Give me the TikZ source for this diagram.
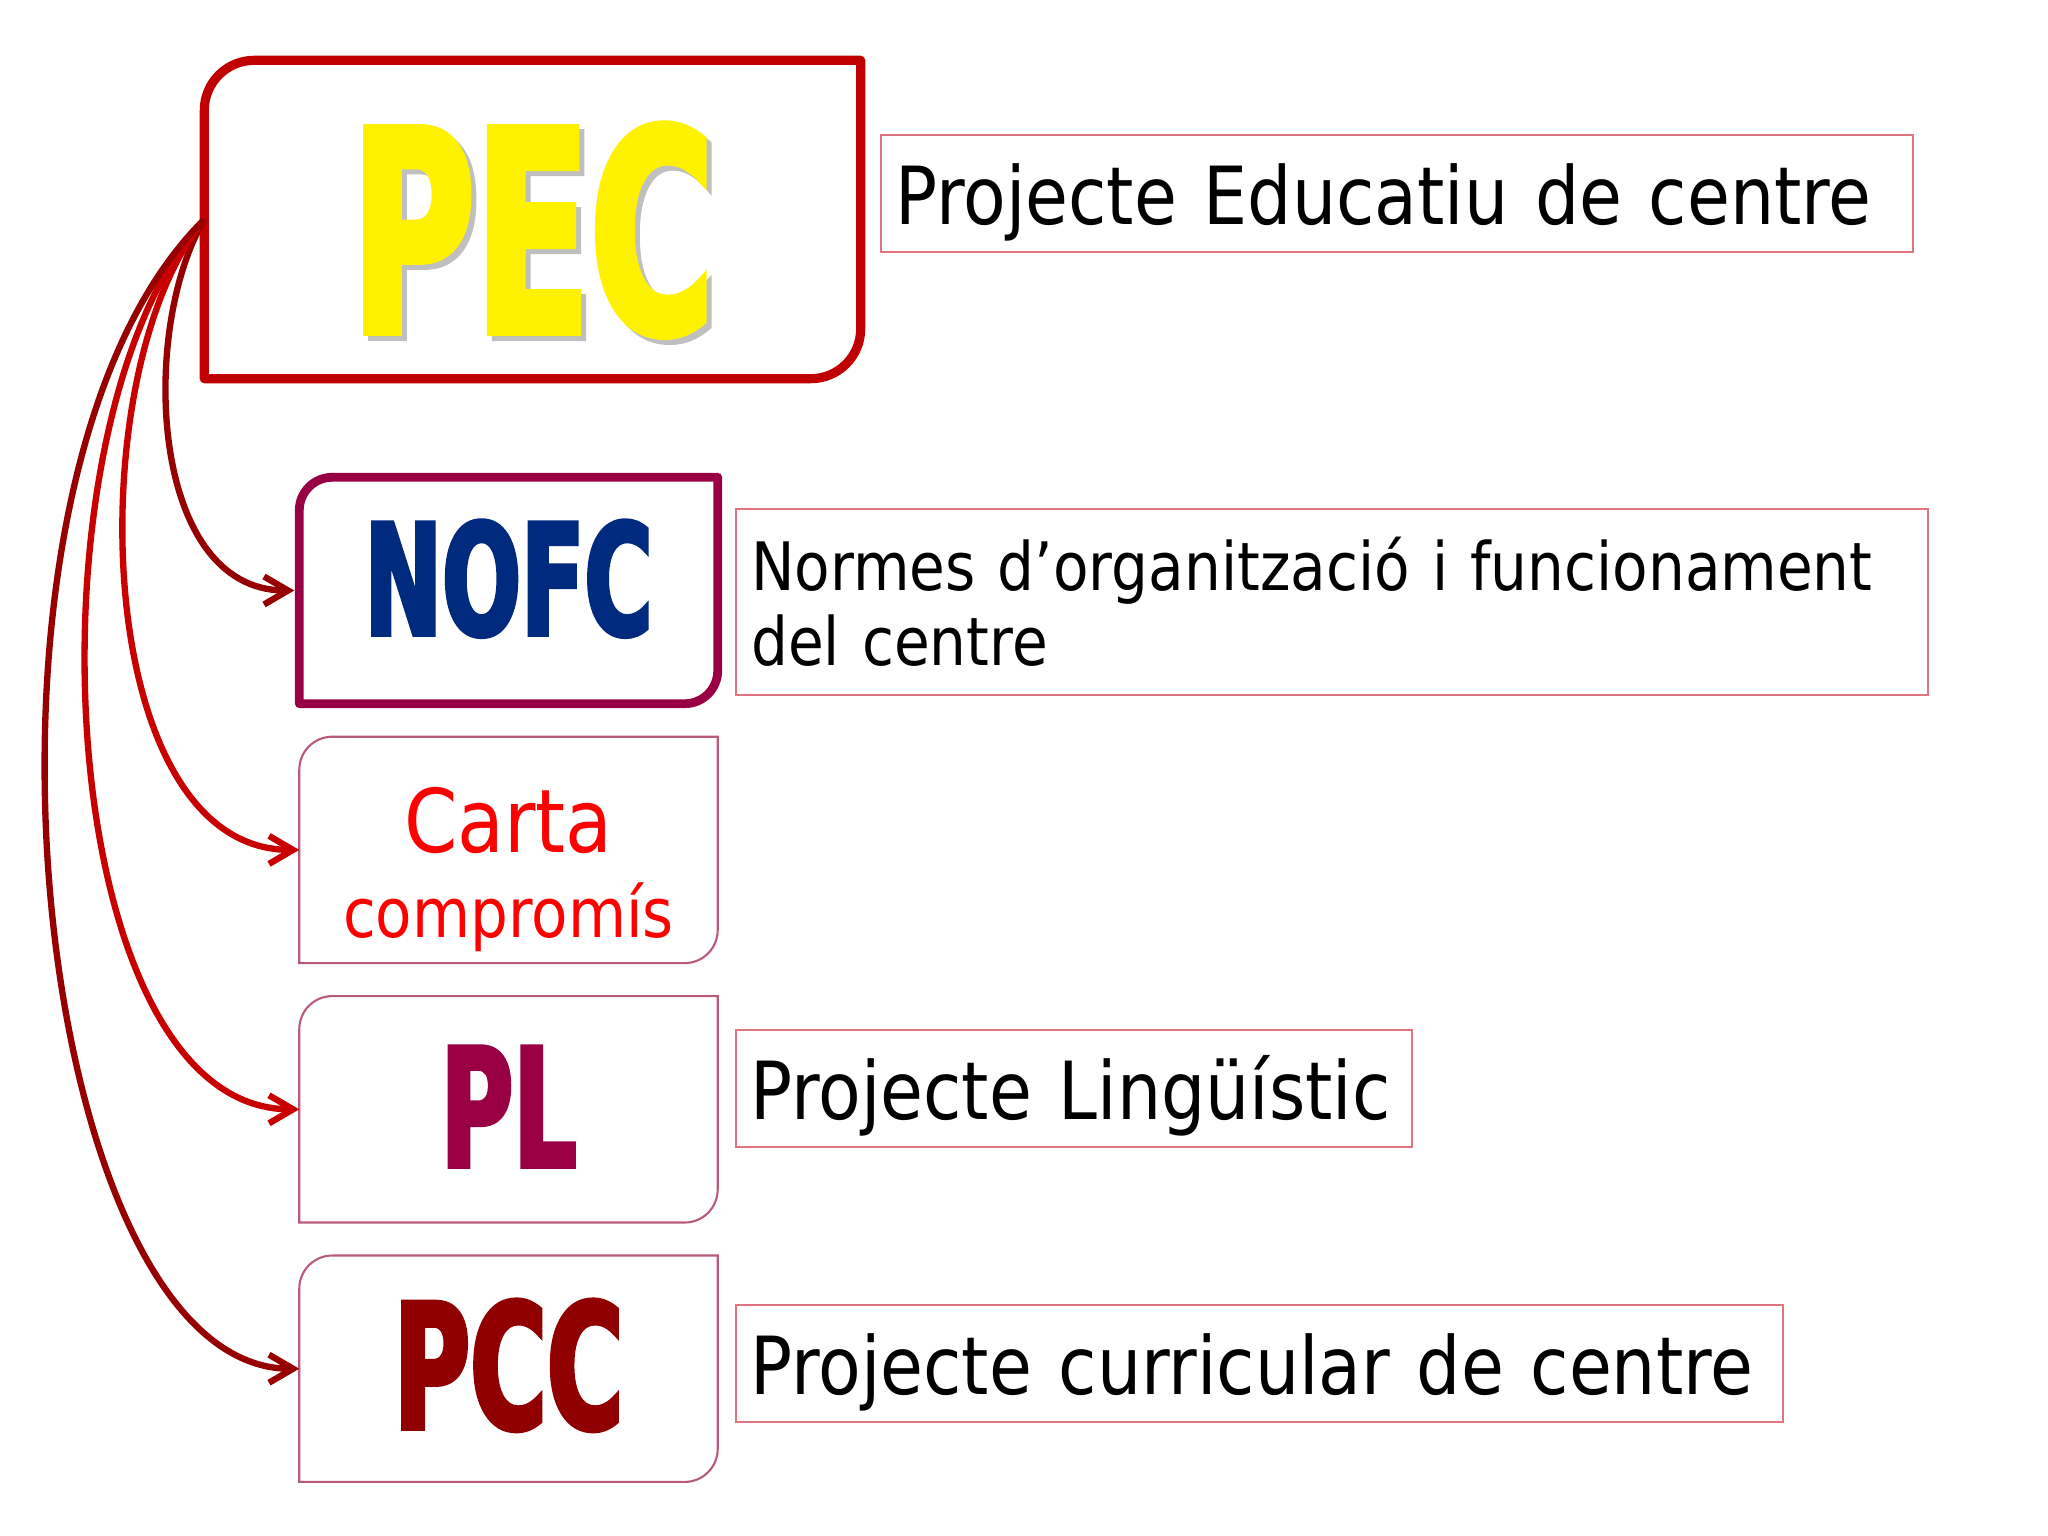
\documentclass[tikz,border=0pt]{standalone}
\usepackage{fontspec}
\newfontfamily\tahoma{DejaVu Sans}[FakeStretch=0.87]
\newfontfamily\impact{DejaVu Sans}[FakeStretch=0.6, FakeBold=2.5]
\usetikzlibrary{arrows.meta}
\usetikzlibrary{chains}
\usetikzlibrary{positioning}
\definecolor{pecred}{RGB}{192,0,0}
\definecolor{nofcline}{RGB}{153,0,68}
\definecolor{nofcblue}{RGB}{0,42,125}
\definecolor{pccred}{RGB}{144,0,0}
\definecolor{cartared}{RGB}{255,0,0}
\definecolor{thinline}{RGB}{185,90,125}
\definecolor{labline}{RGB}{228,115,128}
\definecolor{darkarrow}{RGB}{150,0,0}
\definecolor{redarrow}{RGB}{200,0,0}
\tikzset{
	>={Straight Barb[length=2.4mm,width=2.8mm]},
	abbr/.style={font=\impact\bfseries\fontsize{#1}{#1}\selectfont, text depth=0pt},
	subbox/.style={
		rectangle,
		minimum width=4.17cm,
		minimum height=2.25cm,
		inner sep=0pt,
		align=center,
		on chain},
	labelbox/.style={
		draw=labline, line width=0.6pt,
		inner xsep=0.15cm, inner ysep=0pt,
		align=left},
	oneline/.style={
		labelbox,
		font=\tahoma\fontsize{22.8}{27}\selectfont,
		text height=0.9cm, text depth=0.27cm},
	pecline/.style={draw=pecred, line width=2.6pt, line join=round},
	nofcframe/.style={draw=nofcline, line width=2.5pt, line join=round},
	thinframe/.style={draw=thinline, line width=0.6pt},
	link/.style={->, line width=1.8pt},
}

\begin{document}
\begin{tikzpicture}[node distance=0.33cm, start chain=going below]
	\useasboundingbox (0,0) rectangle (20.48,-15.36);
	\coordinate (pecc) at (5.325,-2.195);
	\node[abbr=80, text=gray!50, text height=2.26cm] (pecshadow) at ([shift={(0.05,-0.05)}]pecc) {PEC};
	\node[abbr=80, text=yellow, text height=2.26cm, minimum width=6.55cm, minimum height=3.17cm, inner sep=0pt] (pec) at (pecc) {PEC};
	
	\node[subbox, abbr=44, text=nofcblue, text height=1.13cm, text depth=0.24cm] (nofc) at (5.085,-5.905) {NOFC};
	\node[subbox, font=\tahoma\fontsize{19.5}{24.2}\selectfont, text=cartared] (carta) {\fontsize{25}{25}\selectfont\rule{0pt}{1.04cm}Carta\\compromís};
	\node[subbox, abbr=47, text=nofcline, text height=1.2cm, text depth=0.05cm] (pl) {PL};
	\node[subbox, abbr=49.5, text=pccred, text height=1.27cm, text depth=0.07cm] (pcc) {PCC};
	
	\foreach \n/\f/\r in {pec/pecline/0.5, nofc/nofcframe/0.33, carta/thinframe/0.33, pl/thinframe/0.33, pcc/thinframe/0.33}
		\draw[\f] (\n.south west) -- ([yshift=-\r cm]\n.north west) arc[start angle=180, end angle=90, radius=\r cm] -- (\n.north east) -- ([yshift=\r cm]\n.south east) arc[start angle=0, end angle=-90, radius=\r cm] -- cycle;
	
	\node[oneline, text width=10.02cm, right=0.19cm of pec, yshift=0.26cm] (pecdesc) {Projecte Educatiu de centre};
	\node[labelbox, font=\tahoma\fontsize{19}{21.3}\selectfont, text width=11.62cm, minimum height=1.86cm, right=0.175cm of nofc, yshift=-0.115cm] (nofcdesc) {Normes d’organització i funcionament\\del centre};
	\node[oneline, text width=6.46cm, right=0.17cm of pl, yshift=0.21cm] (pldesc) {Projecte Lingüístic};
	\node[oneline, text width=10.17cm, right=0.17cm of pcc, yshift=0.055cm] (pccdesc) {Projecte curricular de centre};
	
	\draw[link, darkarrow, shorten >=0.05cm] (pec.west) .. controls +(-0.65,-1.1) and +(-1.5,0) .. (nofc.west);
	\draw[link, redarrow] (pec.west) .. controls +(-1.25,-1.5) and +(-2.1,0) .. (carta.west);
	\draw[link, redarrow] (pec.west) .. controls +(-1.85,-2.0) and +(-2.5,0) .. (pl.west);
	\draw[link, darkarrow] (pec.west) .. controls +(-2.65,-2.6) and +(-2.7,0) .. (pcc.west);
\end{tikzpicture}
\end{document}
